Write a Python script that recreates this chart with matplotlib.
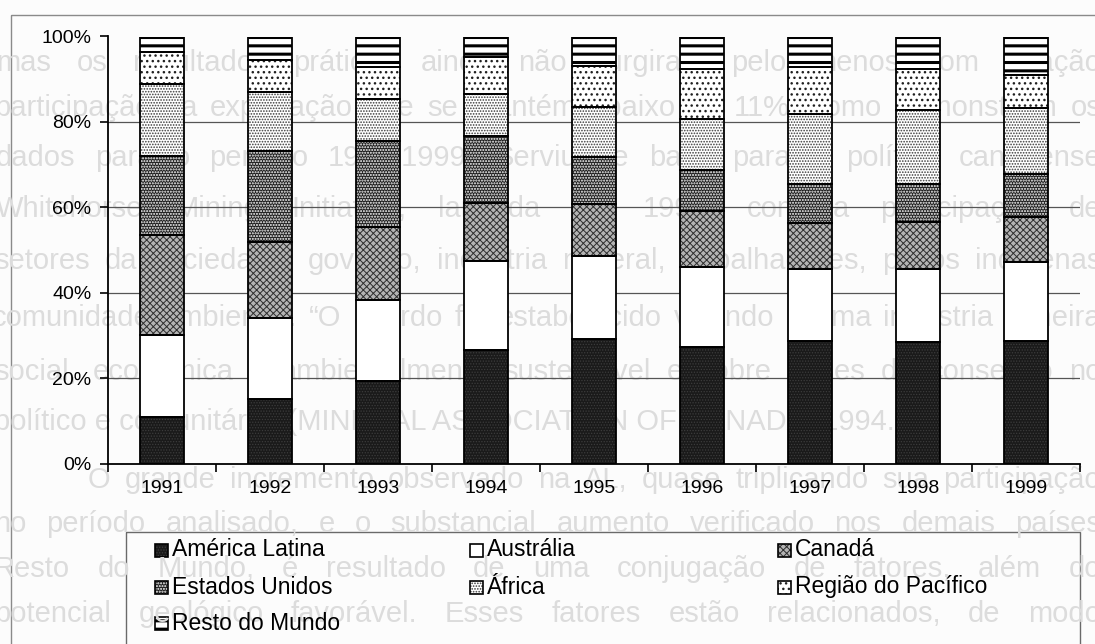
import matplotlib
matplotlib.use("Agg")
import matplotlib.pyplot as plt
from matplotlib.patches import Rectangle
import numpy as np

plt.rcParams["font.family"] = ["Liberation Sans", "DejaVu Sans"]

years = ["1991", "1992", "1993", "1994", "1995", "1996", "1997", "1998", "1999"]

# participação (%) de cada região, de baixo para cima
america_latina = [10.8, 15.2, 19.4, 26.5, 29.2, 27.2, 28.8, 28.4, 28.6]
australia = [19.2, 18.8, 18.9, 20.9, 19.5, 18.8, 16.8, 17.2, 18.5]
canada = [23.4, 17.8, 17.0, 13.6, 12.1, 13.1, 10.7, 10.9, 10.7]
estados_unidos = [18.7, 21.5, 20.3, 15.8, 10.9, 9.7, 9.2, 9.0, 10.0]
africa = [16.8, 13.6, 9.8, 9.8, 11.9, 11.9, 16.4, 17.3, 15.5]
pacifico = [7.4, 7.5, 7.4, 8.6, 9.6, 11.7, 10.9, 9.6, 7.6]
resto = [3.7, 5.6, 7.2, 4.8, 6.8, 7.6, 7.2, 7.6, 9.1]

series = [
    ("América Latina", america_latina),
    ("Austrália", australia),
    ("Canadá", canada),
    ("Estados Unidos", estados_unidos),
    ("África", africa),
    ("Região do Pacífico", pacifico),
    ("Resto do Mundo", resto),
]

# fill, hatch, hatch colour, hatch line width
styles = {
    "América Latina": ("#1a1a1a", "......", "#3c3c3c", 0.6),
    "Austrália": ("white", None, "black", 1.0),
    "Canadá": ("#b4b4b4", "xxxxx", "#2e2e2e", 0.7),
    "Estados Unidos": ("#1e1e1e", "......", "white", 1.0),
    "África": ("white", "......", "#3a3a3a", 0.8),
    "Região do Pacífico": ("white", "...", "#202020", 1.0),
    "Resto do Mundo": ("white", "--", "black", 2.2),
}

# page text showing through behind the chart: (y, text, justified, x start)
page_lines = [
    (63, "mas os resultados práticos ainda não surgiram pelo menos com relação", True, -4),
    (108, "participação na exploração que se mantém abaixo de 11%, como demonstram os", True, -6),
    (158, "dados para o período 1991-1999. Serviu de base para a política canadense", True, -4),
    (209, "Whitehorse Mining Initiative, lançada em 1994, com a participação de", True, -4),
    (261, "setores da sociedade: governo, indústria mineral, trabalhadores, povos indígenas", True, -6),
    (318, "comunidade ambiental. \u201cO acordo foi estabelecido visando a uma indústria mineira", True, -8),
    (372, "social, econômica e ambientalmente sustentável e sobre bases de consenso no", True, -6),
    (422, "político e comunitário\u201d (MINERAL ASSOCIATION OF CANADA, 1994.)", False, -6),
    (480, "O grande incremento observado na AL, quase triplicando sua participação", True, 88),
    (524, "no período analisado, e o substancial aumento verificado nos demais países", True, -6),
    (569, "Resto do Mundo, é resultado de uma conjugação de fatores, além do", True, -6),
    (614, "potencial geológico favorável. Esses fatores estão relacionados, de modo", True, -6),
]
page_colour = "#dcdcdc"

W, H = 1095, 644
fig = plt.figure(figsize=(W / 100, H / 100), dpi=100, facecolor="#fcfcfc")

# background layer in pixel units: page text, outer frame and legend
bg = fig.add_axes([0, 0, 1, 1], zorder=0)
bg.set_xlim(0, W)
bg.set_ylim(H, 0)
bg.axis("off")

renderer = fig.canvas.get_renderer()
for y, line, justify, x0 in page_lines:
    if not justify:
        bg.text(x0, y, line, fontsize=21, color=page_colour, va="center", ha="left")
        continue
    words = [bg.text(0, y, w, fontsize=21, color=page_colour, va="center", ha="left")
             for w in line.split()]
    widths = [t.get_window_extent(renderer).width for t in words]
    gap = (W + 6 - x0 - sum(widths)) / (len(words) - 1)
    pos = x0
    for t, w in zip(words, widths):
        t.set_x(pos)
        pos += w + gap

bg.add_patch(Rectangle((11, 15), W, H, fill=False, edgecolor="#8a8a8a", lw=1.0))

ax = fig.add_axes([108 / W, (H - 463.5) / H, 972 / W, 427 / H], zorder=1)
ax.patch.set_visible(False)

x = np.arange(len(years))
bottom = np.zeros(len(years))
for name, vals in series:
    face, hatch, hcol, hlw = styles[name]
    with plt.rc_context({"hatch.linewidth": hlw}):
        ax.bar(x, vals, 0.4, bottom=bottom, color=face, edgecolor=hcol,
               hatch=hatch, linewidth=0, zorder=2)
    ax.bar(x, vals, 0.4, bottom=bottom, fill=False, edgecolor="black",
           linewidth=1.3, zorder=3)
    bottom += np.array(vals)

ax.set_xlim(-0.5, len(years) - 0.5)
ax.set_ylim(0, 100)
ax.set_yticks(range(0, 101, 20))
ax.set_yticklabels([f"{v}%" for v in range(0, 101, 20)], fontsize=14)
ax.set_xticks(x)
ax.set_xticklabels(years, fontsize=14)
ax.set_xticks(np.arange(-0.5, len(years)), minor=True)
ax.tick_params(axis="x", which="major", length=0, pad=12)
ax.tick_params(axis="x", which="minor", length=6, width=1.2, direction="out")
ax.tick_params(axis="y", length=6, width=1.2, direction="out", pad=6)
ax.yaxis.grid(True, color="#555555", linewidth=0.9, zorder=0)
ax.set_axisbelow(True)
for t in (ax.yaxis.get_major_ticks()[0], ax.yaxis.get_major_ticks()[-1]):
    t.gridline.set_visible(False)
for side in ("top", "right"):
    ax.spines[side].set_visible(False)
for side in ("left", "bottom"):
    ax.spines[side].set_linewidth(1.3)

# legend box, laid out in rows of three
bg.add_patch(Rectangle((126, 532), 954, 140, fill=False, edgecolor="#6a6a6a", lw=1.0))
order = ["América Latina", "Austrália", "Canadá",
         "Estados Unidos", "África", "Região do Pacífico",
         "Resto do Mundo"]
col_x = [155, 470, 778]
row_y = [550, 587, 623]
for i, name in enumerate(order):
    face, hatch, hcol, hlw = styles[name]
    cx, cy = col_x[i % 3], row_y[i // 3]
    with plt.rc_context({"hatch.linewidth": hlw}):
        bg.add_patch(Rectangle((cx, cy - 6.5), 13, 13, facecolor=face,
                               edgecolor=hcol, hatch=hatch, lw=0))
    bg.add_patch(Rectangle((cx, cy - 6.5), 13, 13, fill=False,
                           edgecolor="black", lw=1.2))
    bg.text(cx + 17, cy, name, fontsize=16.5, va="center", ha="left")

fig.savefig("out.png", dpi=100, facecolor=fig.get_facecolor())
